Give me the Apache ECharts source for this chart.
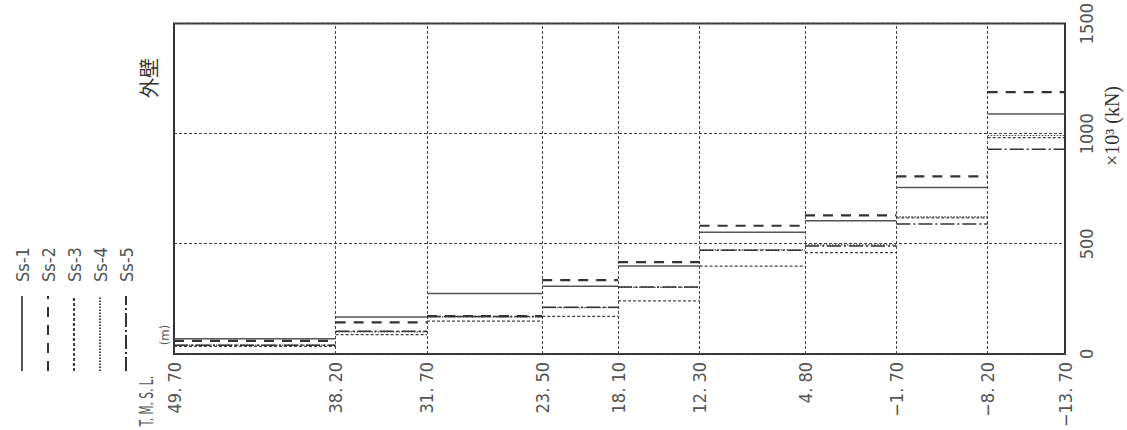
<!DOCTYPE html>
<html>
<head>
<meta charset="utf-8">
<script src="https://cdn.jsdelivr.net/npm/echarts@6/dist/echarts.min.js"></script>
<style>
html,body{margin:0;padding:0;background:#fff;overflow:hidden;width:1127px;height:430px;}
#wrap{position:absolute;left:0;top:0;width:430px;height:1127px;transform-origin:0 0;transform:translate(0,430px) rotate(-90deg);}
#chart{width:430px;height:1127px;}
</style>
</head>
<body>
<div id="wrap"><div id="chart"></div></div>
<script>
// Elevation boundaries (T.M.S.L., m) and their tick labels
const levels = [49.70, 38.20, 31.70, 23.50, 18.10, 12.30, 4.80, -1.70, -8.20, -13.70];
const levelLabels = ["49. 70", "38. 20", "31. 70", "23. 50", "18. 10", "12. 30", "4. 80", "\u22121. 70", "\u22128. 20", "\u221213. 70"];
// Force axis ticks (x10^3 kN)
const forceTicks = [0, 500, 1000, 1500];
// Series names
const seriesNames = ["Ss-1", "Ss-2", "Ss-3", "Ss-4", "Ss-5"];
// Values per storey segment (top to bottom), x10^3 kN
const ss1 = [69, 168, 274, 307, 399, 553, 605, 756, 1090];
const ss2 = [59, 143, 172, 335, 417, 582, 629, 806, 1189];
const ss3 = [34, 88, 149, 171, 241, 399, 460, 618, 982];
const ss4 = [40, 100, 168, 210, 302, 473, 495, 622, 992];
const ss5 = [39, 103, 170, 212, 304, 471, 490, 590, 929];

const allValues = [ss1, ss2, ss3, ss4, ss5];
const styles = [
  {color: '#555', width: 1.5, type: 'solid'},
  {color: '#333', width: 2.2, type: [10, 8]},
  {color: '#444', width: 1.3, type: [3, 2]},
  {color: '#444', width: 1.2, type: [1.5, 1.5]},
  {color: '#333', width: 1.5, type: [14, 3, 2, 3]}
];

function stepData(vals) {
  const d = [];
  for (let i = 0; i < vals.length; i++) {
    d.push([vals[i], levels[i]]);
    d.push([vals[i], levels[i + 1]]);
    d.push(['-', '-']);
  }
  return d;
}

const labelFont = '"DejaVu Sans Condensed", "Liberation Sans Narrow", sans-serif';

const series = seriesNames.map((name, k) => ({
  name: name,
  type: 'line',
  data: stepData(allValues[k]),
  symbol: 'none',
  connectNulls: false,
  lineStyle: styles[k],
  itemStyle: {color: styles[k].color},
  z: 5,
  animation: false
}));

series.push({
  name: 'grid',
  type: 'line',
  data: [],
  silent: true,
  markLine: {
    silent: true,
    symbol: ['none', 'none'],
    label: {show: false},
    lineStyle: {color: '#444', width: 1, type: [3, 2]},
    data: levels.slice(1, -1).map(v => ({yAxis: v}))
  },
  animation: false
});

const chart = echarts.init(document.getElementById('chart'), null, {renderer: 'svg', width: 430, height: 1127});
chart.setOption({
  animation: false,
  backgroundColor: '#fff',
  grid: {left: 68, right: 20, top: 174, bottom: 62, show: true, borderColor: '#333', borderWidth: 2, backgroundColor: 'transparent'},
  legend: {
    orient: 'vertical',
    left: 53,
    top: 7,
    itemWidth: 75,
    itemHeight: 1,
    itemGap: 6,
    data: seriesNames,
    selectedMode: false,
    itemStyle: {opacity: 0},
    textStyle: {fontFamily: labelFont, fontSize: 18, color: '#555', lineHeight: 20, padding: [0, 0, 0, 9]}
  },
  xAxis: {
    type: 'value',
    min: 0,
    max: 1500,
    interval: 500,
    position: 'bottom',
    axisLine: {show: false},
    axisTick: {show: false},
    axisLabel: {
      margin: 12,
      fontFamily: labelFont,
      fontSize: 18,
      color: '#555',
      formatter: v => forceTicks.indexOf(v) >= 0 ? String(v) : ''
    },
    splitLine: {show: true, lineStyle: {color: '#444', width: 1, type: [3, 2]}}
  },
  yAxis: {
    type: 'value',
    min: -13.7,
    max: 49.7,
    axisLine: {show: false},
    axisTick: {show: false, customValues: levels},
    splitLine: {show: false},
    axisLabel: {
      customValues: levels,
      hideOverlap: false,
      showMinLabel: true,
      showMaxLabel: true,
      margin: 8,
      fontFamily: labelFont,
      fontSize: 18,
      color: '#555',
      formatter: function (v) {
        for (let i = 0; i < levels.length; i++) {
          if (Math.abs(levels[i] - v) < 1e-6) return levelLabels[i];
        }
        return '';
      }
    }
  },
  graphic: [
    {type: 'text', x: 54, y: 146, scaleX: 0.62, style: {text: 'T. M. S. L.', font: '19px ' + labelFont, fill: '#555', align: 'right', verticalAlign: 'middle'}},
    {type: 'text', x: 95, y: 164, style: {text: '(m)', font: '13px ' + labelFont, fill: '#555', align: 'center', verticalAlign: 'middle'}},
    {type: 'text', x: 352, y: 148, style: {text: '外壁', font: '20px "Noto Sans CJK JP", sans-serif', fill: '#333', align: 'center', verticalAlign: 'middle'}},
    {type: 'text', x: 304, y: 1112, style: {text: '×10³ (kN)', font: '20px "Liberation Serif", serif', fill: '#333', align: 'center', verticalAlign: 'middle'}}
  ],
  series: series
});
</script>
</body>
</html>
